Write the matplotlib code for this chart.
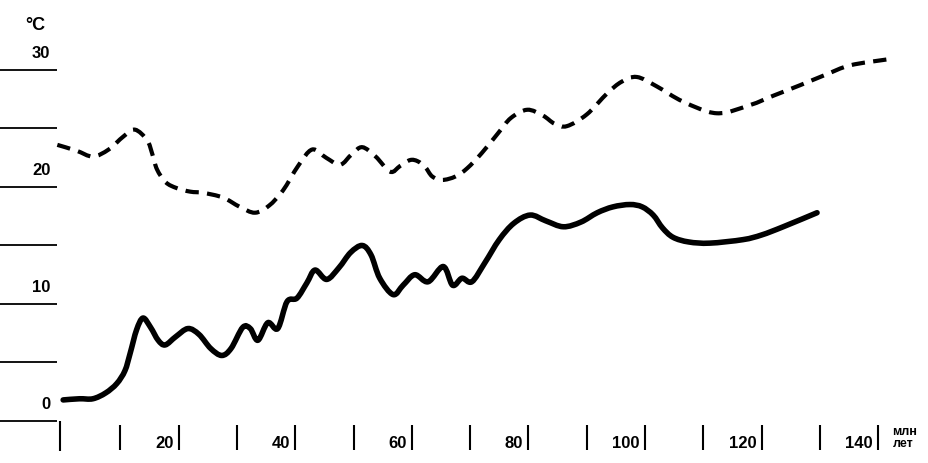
import matplotlib
matplotlib.use("Agg")
import matplotlib.pyplot as plt
from matplotlib.path import Path
from matplotlib.patches import PathPatch

# solid curve (lower), age in Ma vs temperature
solid_age = [0.2, 3, 5.3, 7.5, 9.4, 10.8, 11.7, 12.8, 13.9, 15.2, 16.5, 17.7, 19.5, 21.6, 23.5,
             25.5, 27.4, 29, 31, 32.3, 33.6, 35.3, 37, 38.6, 40.3, 42, 43.4, 45.4, 47.5, 49.5,
             51.5, 53, 54.5, 56.8, 58.5, 60.5, 62.8, 65.4, 67, 68.6, 70.3, 72.5, 75, 77.5, 80.3,
             83, 86, 89, 91.8, 94.5, 97.4, 99.5, 101.4, 103, 104.8, 107.5, 111.1, 116.8, 120,
             123.7, 129.5]
solid_temp = [1.8, 1.9, 1.9, 2.4, 3.2, 4.3, 5.8, 7.8, 8.8, 8.0, 6.9, 6.5, 7.2, 7.9, 7.4,
              6.2, 5.6, 6.2, 8.0, 7.9, 6.9, 8.4, 7.9, 10.2, 10.5, 11.8, 12.9, 12.1, 13.1, 14.4,
              15.0, 14.2, 12.2, 10.8, 11.6, 12.5, 11.9, 13.2, 11.6, 12.2, 11.9, 13.5, 15.5, 16.9, 17.6,
              17.1, 16.6, 17.0, 17.8, 18.3, 18.5, 18.3, 17.6, 16.5, 15.7, 15.3, 15.2, 15.5, 15.9,
              16.6, 17.8]

# dashed curve (upper)
dash_age = [-0.8, 2.5, 5.3, 8, 10.5, 12.5, 14.6, 15.5, 16.3, 17.8, 19.7, 22, 24.2, 27.6, 30.5,
            33.1, 35.5, 37.9, 40.5, 42.9, 45.3, 47.7, 49.7, 51.5, 53.8, 56.3, 58, 59.7, 61, 62.3,
            63.5, 65.2, 67.5, 69.5, 72, 74.8, 77, 79.8, 82.5, 84.5, 86.6, 90, 93.5, 96, 98.6,
            102, 106.5, 112.3, 118, 122, 126.6, 131, 135.2, 141.5]
dash_temp = [23.6, 23.1, 22.6, 23.2, 24.3, 24.9, 24.0, 22.8, 21.5, 20.4, 19.9, 19.6, 19.5, 19.1, 18.3,
             17.8, 18.4, 19.7, 21.8, 23.2, 22.5, 21.9, 22.8, 23.4, 22.6, 21.3, 21.8, 22.3, 22.2, 21.7,
             20.9, 20.6, 20.9, 21.6, 22.9, 24.6, 25.9, 26.6, 26.1, 25.4, 25.2, 26.2, 28.0, 29.0, 29.4,
             28.6, 27.3, 26.3, 27.0, 27.8, 28.7, 29.6, 30.4, 30.9]

y_marks = [0, 5, 10, 15, 20, 25, 30]
y_labels = {0: "0", 10: "10", 20: "20", 30: "30"}
x_marks = list(range(0, 150, 10))
x_labels = [20, 40, 60, 80, 100, 120, 140]


def smooth_path(xs, ys):
    # Catmull-Rom through the points, drawn as cubic bezier segments
    verts = [(xs[0], ys[0])]
    codes = [Path.MOVETO]
    n = len(xs)
    for i in range(n - 1):
        x0, y0 = (xs[i - 1], ys[i - 1]) if i > 0 else (xs[i], ys[i])
        x1, y1 = xs[i], ys[i]
        x2, y2 = xs[i + 1], ys[i + 1]
        x3, y3 = (xs[i + 2], ys[i + 2]) if i + 2 < n else (x2, y2)
        c1 = (x1 + (x2 - x0) / 6, y1 + (y2 - y0) / 6)
        c2 = (x2 - (x3 - x1) / 6, y2 - (y3 - y1) / 6)
        verts += [c1, c2, (x2, y2)]
        codes += [Path.CURVE4] * 3
    return Path(verts, codes)


plt.rcParams['font.family'] = ['Liberation Sans', 'DejaVu Sans']

fig = plt.figure(figsize=(9.29, 4.63), dpi=100)
ax = fig.add_axes([0, 0, 1, 1])
ax.set_xlim(-10.63, 148.7)
ax.set_ylim(-3.59, 35.98)
ax.axis("off")

# curves
ax.add_patch(PathPatch(smooth_path(solid_age, solid_temp), fill=False, edgecolor="black",
                       lw=4, capstyle="round", joinstyle="round"))
ax.add_patch(PathPatch(smooth_path(dash_age, dash_temp), fill=False, edgecolor="black",
                       lw=3, linestyle=(0, (3.2, 2)), capstyle="butt"))

# y scale: short horizontal marks at the left
ax.hlines(y_marks, -10.63, -0.9, color="black", lw=1.3)
for v, s in y_labels.items():
    ax.text(-2.0, v + 0.75, s, ha="right", va="bottom", fontsize=12, fontweight="bold")
ax.text(-4.6, 33.8, "°C", ha="center", va="center", fontsize=13, fontweight="bold")

# x scale: vertical marks below the baseline
ax.vlines([x for x in x_marks if x > 0], -0.3, -2.5, color="black", lw=1.5)
ax.vlines([-0.4], 0, -2.6, color="black", lw=1.5)
for v in x_labels:
    ax.text(v - 0.9, -1.95, str(v), ha="right", va="center", fontsize=12, fontweight="bold")
ax.text(142.3, -0.95, "млн", ha="left", va="center", fontsize=9, fontweight="bold")
ax.text(142.5, -1.95, "лет", ha="left", va="center", fontsize=9, fontweight="bold")

fig.savefig("out.png", dpi=100)
